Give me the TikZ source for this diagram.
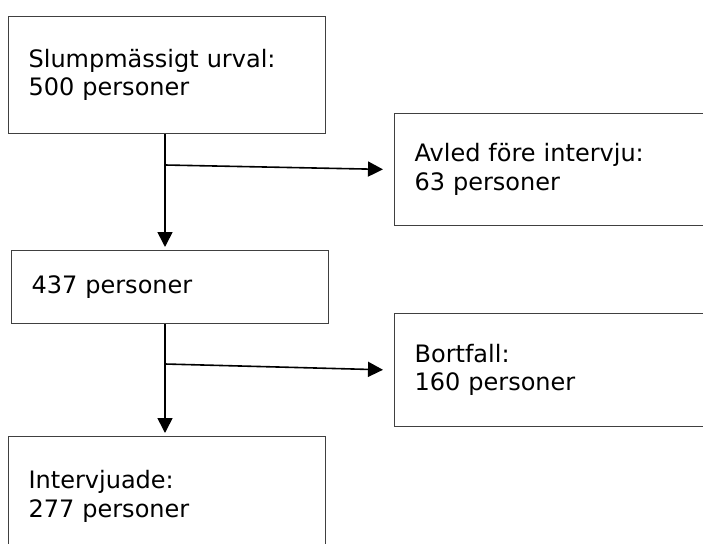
\documentclass[tikz,border=0pt]{standalone}
\usepackage{fontspec}
\setmainfont{DejaVu Sans}
\usetikzlibrary{arrows.meta, positioning}

\begin{document}
\begin{tikzpicture}[
    x=1pt, y=-1pt,
    box/.style={rectangle, draw=black!75, line width=1.2pt, minimum width=317pt, text width=277pt, inner xsep=20pt, align=left, anchor=north west, font=\fontsize{24}{28.5}\selectfont},
    arrow/.style={-{Triangle[length=15pt, width=15pt]}, line width=1.6pt}
]
    \clip (0,0) rectangle (703,543);

    % Left column
    \node[box, minimum height=117pt] (urval) at (8,16) {Slumpmässigt urval:\\500 personer};
    \node[box, minimum height=73pt] (rest) at (11,250) {437 personer};
    \node[box, minimum height=120pt] (intervjuade) at (8,436) {Intervjuade:\\277 personer};

    % Right column
    \node[box, minimum height=112pt] (avled) at (394,113) {Avled före intervju:\\63 personer};
    \node[box, minimum height=113pt] (bortfall) at (394,313) {Bortfall:\\160 personer};

    % Branch points
    \coordinate (split1) at (165,165);
    \coordinate (split2) at (165,364);

    % Arrows
    \draw[arrow, shorten >=3pt] (split1 |- urval.south) -- (split1 |- rest.north);
    \draw[arrow, shorten >=11pt] (split1) -- (avled.west);
    \draw[arrow, shorten >=3pt] (split2 |- rest.south) -- (split2 |- intervjuade.north);
    \draw[arrow, shorten >=11pt] (split2) -- (bortfall.west);
\end{tikzpicture}
\end{document}
